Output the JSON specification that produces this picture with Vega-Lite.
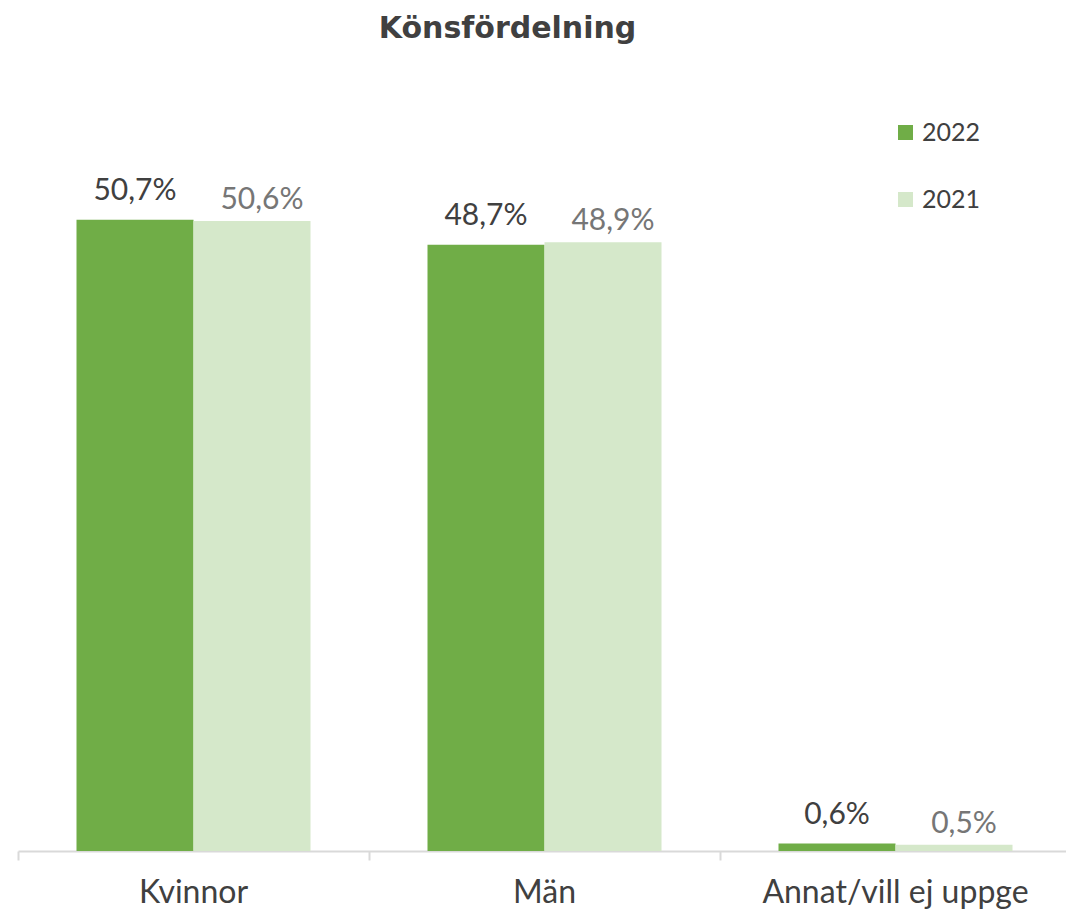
{
  "$schema": "https://vega.github.io/schema/vega-lite/v6.json",
  "autosize": {"type": "none"},
  "padding": {"left": 18, "top": 104, "right": 0, "bottom": 59},
  "width": 1053,
  "height": 747,
  "config": {
    "locale": {"number": {"decimal": ",", "thousands": " ", "grouping": [3], "currency": ["", " kr"]}},
    "view": {"stroke": null},
    "font": "Lato"
  },
  "title": {
    "text": "Könsfördelning",
    "fontSize": 30,
    "fontWeight": "bold",
    "color": "#404040",
    "anchor": "middle",
    "dx": -37,
    "offset": 60,
    "font": "DejaVu Sans"
  },
  "data": {
    "values": [
      {"category": "Kvinnor", "year": "2022", "value": 0.507},
      {"category": "Kvinnor", "year": "2021", "value": 0.506},
      {"category": "Män", "year": "2022", "value": 0.487},
      {"category": "Män", "year": "2021", "value": 0.489},
      {"category": "Annat/vill ej uppge", "year": "2022", "value": 0.006},
      {"category": "Annat/vill ej uppge", "year": "2021", "value": 0.005}
    ]
  },
  "encoding": {
    "x": {
      "field": "category",
      "type": "nominal",
      "sort": ["Kvinnor", "Män", "Annat/vill ej uppge"],
      "scale": {"paddingInner": 0, "paddingOuter": 0},
      "axis": {
        "title": null,
        "labelAngle": 0,
        "labelFontSize": 32,
        "labelColor": "#404040",
        "labelPadding": 17,
        "labelLimit": 0,
        "domainColor": "#D9D9D9",
        "domainWidth": 2,
        "tickColor": "#D9D9D9",
        "tickWidth": 2,
        "tickSize": 9,
        "bandPosition": 0
      }
    },
    "xOffset": {
      "field": "year",
      "type": "nominal",
      "sort": ["2022", "2021"],
      "scale": {"paddingInner": 0, "paddingOuter": 0.5}
    },
    "y": {
      "field": "value",
      "type": "quantitative",
      "scale": {"domain": [0, 0.6]},
      "axis": null
    }
  },
  "layer": [
    {
      "mark": {"type": "bar"},
      "encoding": {
        "color": {
          "field": "year",
          "type": "nominal",
          "scale": {"domain": ["2022", "2021"], "range": ["#70AD47", "#D5E8CA"]},
          "legend": {
            "title": null,
            "orient": "none",
            "legendX": 875,
            "legendY": 16,
            "symbolType": "square",
            "symbolSize": 225,
            "symbolStrokeWidth": 0,
            "labelFontSize": 25,
            "labelColor": "#404040",
            "labelOffset": 4,
            "rowPadding": 41
          }
        }
      }
    },
    {
      "transform": [{"filter": "datum.year == '2022'"}],
      "mark": {"type": "text", "baseline": "alphabetic", "dy": -20, "fontSize": 30, "color": "#404040"},
      "encoding": {"text": {"field": "value", "type": "quantitative", "format": ".1%"}}
    },
    {
      "transform": [{"filter": "datum.year == '2021'"}],
      "mark": {"type": "text", "baseline": "alphabetic", "dy": -12, "dx": 10, "fontSize": 30, "color": "#767676"},
      "encoding": {"text": {"field": "value", "type": "quantitative", "format": ".1%"}}
    }
  ]
}
